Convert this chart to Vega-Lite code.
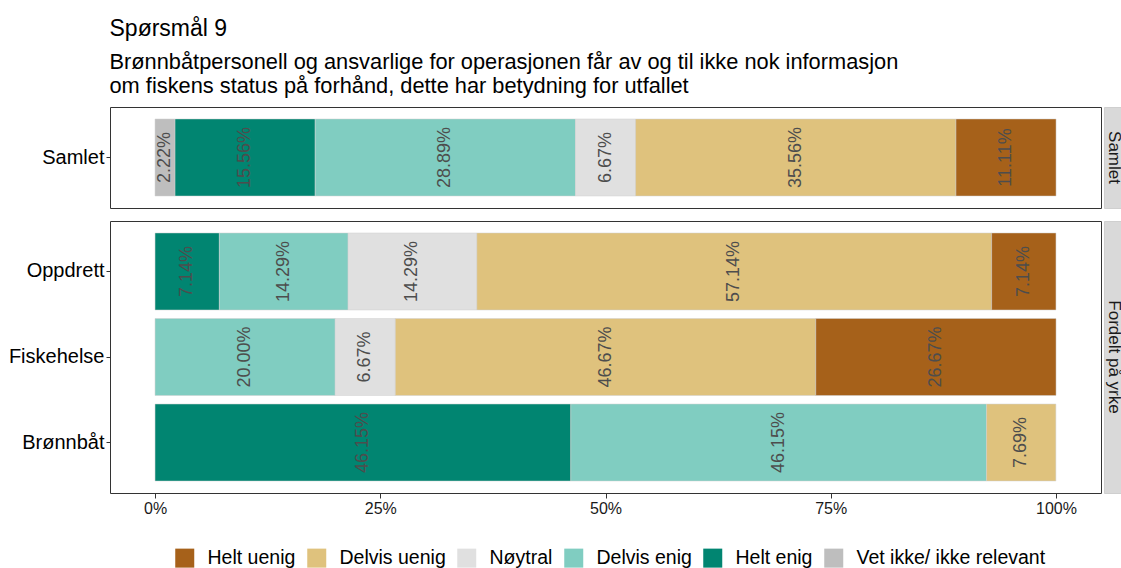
{
  "$schema": "https://vega.github.io/schema/vega-lite/v6.json",
  "padding": {"top": 17, "left": 0, "right": 0, "bottom": 0},
  "background": "white",
  "title": {
    "text": "Spørsmål 9",
    "subtitle": ["Brønnbåtpersonell og ansvarlige for operasjonen får av og til ikke nok informasjon", "\u00a0om fiskens status på forhånd, dette har betydning for utfallet"],
    "anchor": "start",
    "frame": "bounds",
    "dx": 109,
    "font": "Liberation Sans",
    "fontSize": 23,
    "fontWeight": "normal",
    "color": "black",
    "subtitleFont": "Liberation Sans",
    "subtitleFontSize": 21.8,
    "subtitleColor": "black",
    "subtitleLineHeight": 24,
    "subtitlePadding": 11,
    "offset": 9
  },
  "datasets": {
    "svar": [
      {"panel": "Samlet", "group": "Samlet", "answer": "Vet ikke/ ikke relevant", "order": 1, "value": 0.0222},
      {"panel": "Samlet", "group": "Samlet", "answer": "Helt enig", "order": 2, "value": 0.1556},
      {"panel": "Samlet", "group": "Samlet", "answer": "Delvis enig", "order": 3, "value": 0.2889},
      {"panel": "Samlet", "group": "Samlet", "answer": "Nøytral", "order": 4, "value": 0.0667},
      {"panel": "Samlet", "group": "Samlet", "answer": "Delvis uenig", "order": 5, "value": 0.3556},
      {"panel": "Samlet", "group": "Samlet", "answer": "Helt uenig", "order": 6, "value": 0.1111},
      {"panel": "Fordelt på yrke", "group": "Oppdrett", "answer": "Helt enig", "order": 2, "value": 0.0714},
      {"panel": "Fordelt på yrke", "group": "Oppdrett", "answer": "Delvis enig", "order": 3, "value": 0.1429},
      {"panel": "Fordelt på yrke", "group": "Oppdrett", "answer": "Nøytral", "order": 4, "value": 0.1429},
      {"panel": "Fordelt på yrke", "group": "Oppdrett", "answer": "Delvis uenig", "order": 5, "value": 0.5714},
      {"panel": "Fordelt på yrke", "group": "Oppdrett", "answer": "Helt uenig", "order": 6, "value": 0.0714},
      {"panel": "Fordelt på yrke", "group": "Fiskehelse", "answer": "Delvis enig", "order": 3, "value": 0.2000},
      {"panel": "Fordelt på yrke", "group": "Fiskehelse", "answer": "Nøytral", "order": 4, "value": 0.0667},
      {"panel": "Fordelt på yrke", "group": "Fiskehelse", "answer": "Delvis uenig", "order": 5, "value": 0.4667},
      {"panel": "Fordelt på yrke", "group": "Fiskehelse", "answer": "Helt uenig", "order": 6, "value": 0.2667},
      {"panel": "Fordelt på yrke", "group": "Brønnbåt", "answer": "Helt enig", "order": 2, "value": 0.4615},
      {"panel": "Fordelt på yrke", "group": "Brønnbåt", "answer": "Delvis enig", "order": 3, "value": 0.4615},
      {"panel": "Fordelt på yrke", "group": "Brønnbåt", "answer": "Delvis uenig", "order": 5, "value": 0.0769}
    ],
    "strips": [
      {"panel": "Samlet"},
      {"panel": "Fordelt på yrke"}
    ]
  },
  "spacing": 11,
  "vconcat": [
    {
      "spacing": 1,
      "hconcat": [
        {
          "width": 991,
          "height": 101,
          "data": {"name": "svar"},
          "transform": [
            {"filter": "datum.panel === 'Samlet'"},
            {"stack": "value", "groupby": ["group"], "sort": [{"field": "order", "order": "ascending"}], "as": ["x0", "x1"], "offset": "zero"},
            {"calculate": "(datum.x0 + datum.x1) / 2", "as": "xmid"}
          ],
          "encoding": {
            "y": {"field": "group", "type": "nominal", "title": null, "sort": ["Samlet"], "scale": {"paddingInner": 0.1, "paddingOuter": 0.14}}
          },
          "layer": [
            {
              "mark": {"type": "bar", "stroke": "#d0d0d0", "strokeWidth": 0.5},
              "encoding": {
                "x": {"field": "x0", "type": "quantitative", "scale": {"domain": [-0.05, 1.05], "nice": false, "zero": false}, "axis": null},
                "x2": {"field": "x1"},
                "color": {
                  "field": "answer", "type": "nominal",
                  "scale": {
                    "domain": ["Helt uenig", "Delvis uenig", "Nøytral", "Delvis enig", "Helt enig", "Vet ikke/ ikke relevant"],
                    "range": ["#A6611A", "#DFC27D", "#E0E0E0", "#80CDC1", "#018571", "#BEBEBE"]
                  },
                  "legend": {"orient": "none", "legendX": 65, "legendY": 441, "direction": "horizontal", "title": null}
                }
              }
            },
            {
              "mark": {"type": "text", "angle": 270, "fontSize": 18, "color": "#4d4d4d", "font": "Liberation Sans", "align": "center", "baseline": "middle"},
              "encoding": {
                "x": {"field": "xmid", "type": "quantitative"},
                "text": {"field": "value", "type": "quantitative", "format": ".2%"}
              }
            }
          ]
        },
        {
          "width": 20,
          "height": 101,
          "view": {"fill": "#d9d9d9", "stroke": "#cfcfcf"},
          "data": {"name": "strips"},
          "transform": [{"filter": "datum.panel === 'Samlet'"}],
          "mark": {"type": "text", "angle": 90, "fontSize": 17, "color": "#1a1a1a", "font": "Liberation Sans", "align": "center", "baseline": "middle"},
          "encoding": {"text": {"field": "panel", "type": "nominal"}}
        }
      ]
    },
    {
      "spacing": 1,
      "hconcat": [
        {
          "width": 991,
          "height": 272,
          "data": {"name": "svar"},
          "transform": [
            {"filter": "datum.panel === 'Fordelt på yrke'"},
            {"stack": "value", "groupby": ["group"], "sort": [{"field": "order", "order": "ascending"}], "as": ["x0", "x1"], "offset": "zero"},
            {"calculate": "(datum.x0 + datum.x1) / 2", "as": "xmid"}
          ],
          "encoding": {
            "y": {"field": "group", "type": "nominal", "title": null, "sort": ["Oppdrett", "Fiskehelse", "Brønnbåt"], "scale": {"paddingInner": 0.1, "paddingOuter": 0.14}}
          },
          "layer": [
            {
              "mark": {"type": "bar", "stroke": "#d0d0d0", "strokeWidth": 0.5},
              "encoding": {
                "x": {"field": "x0", "type": "quantitative", "scale": {"domain": [-0.05, 1.05], "nice": false, "zero": false}, "title": null, "axis": {"values": [0, 0.25, 0.5, 0.75, 1], "format": ".0%"}},
                "x2": {"field": "x1"},
                "color": {
                  "field": "answer", "type": "nominal",
                  "scale": {
                    "domain": ["Helt uenig", "Delvis uenig", "Nøytral", "Delvis enig", "Helt enig", "Vet ikke/ ikke relevant"],
                    "range": ["#A6611A", "#DFC27D", "#E0E0E0", "#80CDC1", "#018571", "#BEBEBE"]
                  },
                  "legend": {"orient": "none", "legendX": 65, "legendY": 441, "direction": "horizontal", "title": null}
                }
              }
            },
            {
              "mark": {"type": "text", "angle": 270, "fontSize": 18, "color": "#4d4d4d", "font": "Liberation Sans", "align": "center", "baseline": "middle"},
              "encoding": {
                "x": {"field": "xmid", "type": "quantitative"},
                "text": {"field": "value", "type": "quantitative", "format": ".2%"}
              }
            }
          ]
        },
        {
          "width": 20,
          "height": 272,
          "view": {"fill": "#d9d9d9", "stroke": "#cfcfcf"},
          "data": {"name": "strips"},
          "transform": [{"filter": "datum.panel === 'Fordelt på yrke'"}],
          "mark": {"type": "text", "angle": 90, "fontSize": 17, "color": "#1a1a1a", "font": "Liberation Sans", "align": "center", "baseline": "middle"},
          "encoding": {"text": {"field": "panel", "type": "nominal"}}
        }
      ]
    }
  ],
  "config": {
    "font": "Liberation Sans",
    "view": {"stroke": "#333333", "strokeWidth": 1},
    "axis": {"grid": false, "domain": false, "tickColor": "#333333", "labelFont": "Liberation Sans"},
    "axisY": {"labelFontSize": 20, "labelColor": "black", "tickSize": 4, "labelPadding": 2, "minExtent": 109, "maxExtent": 109},
    "axisX": {"labelFontSize": 16, "labelColor": "#1a1a1a", "tickSize": 5, "labelPadding": 2},
    "legend": {
      "symbolType": "square",
      "symbolSize": 361,
      "symbolStrokeWidth": 0,
      "labelFontSize": 19.5,
      "labelFont": "Liberation Sans",
      "labelColor": "black",
      "labelLimit": 400,
      "labelOffset": 13,
      "columnPadding": 11
    }
  }
}
